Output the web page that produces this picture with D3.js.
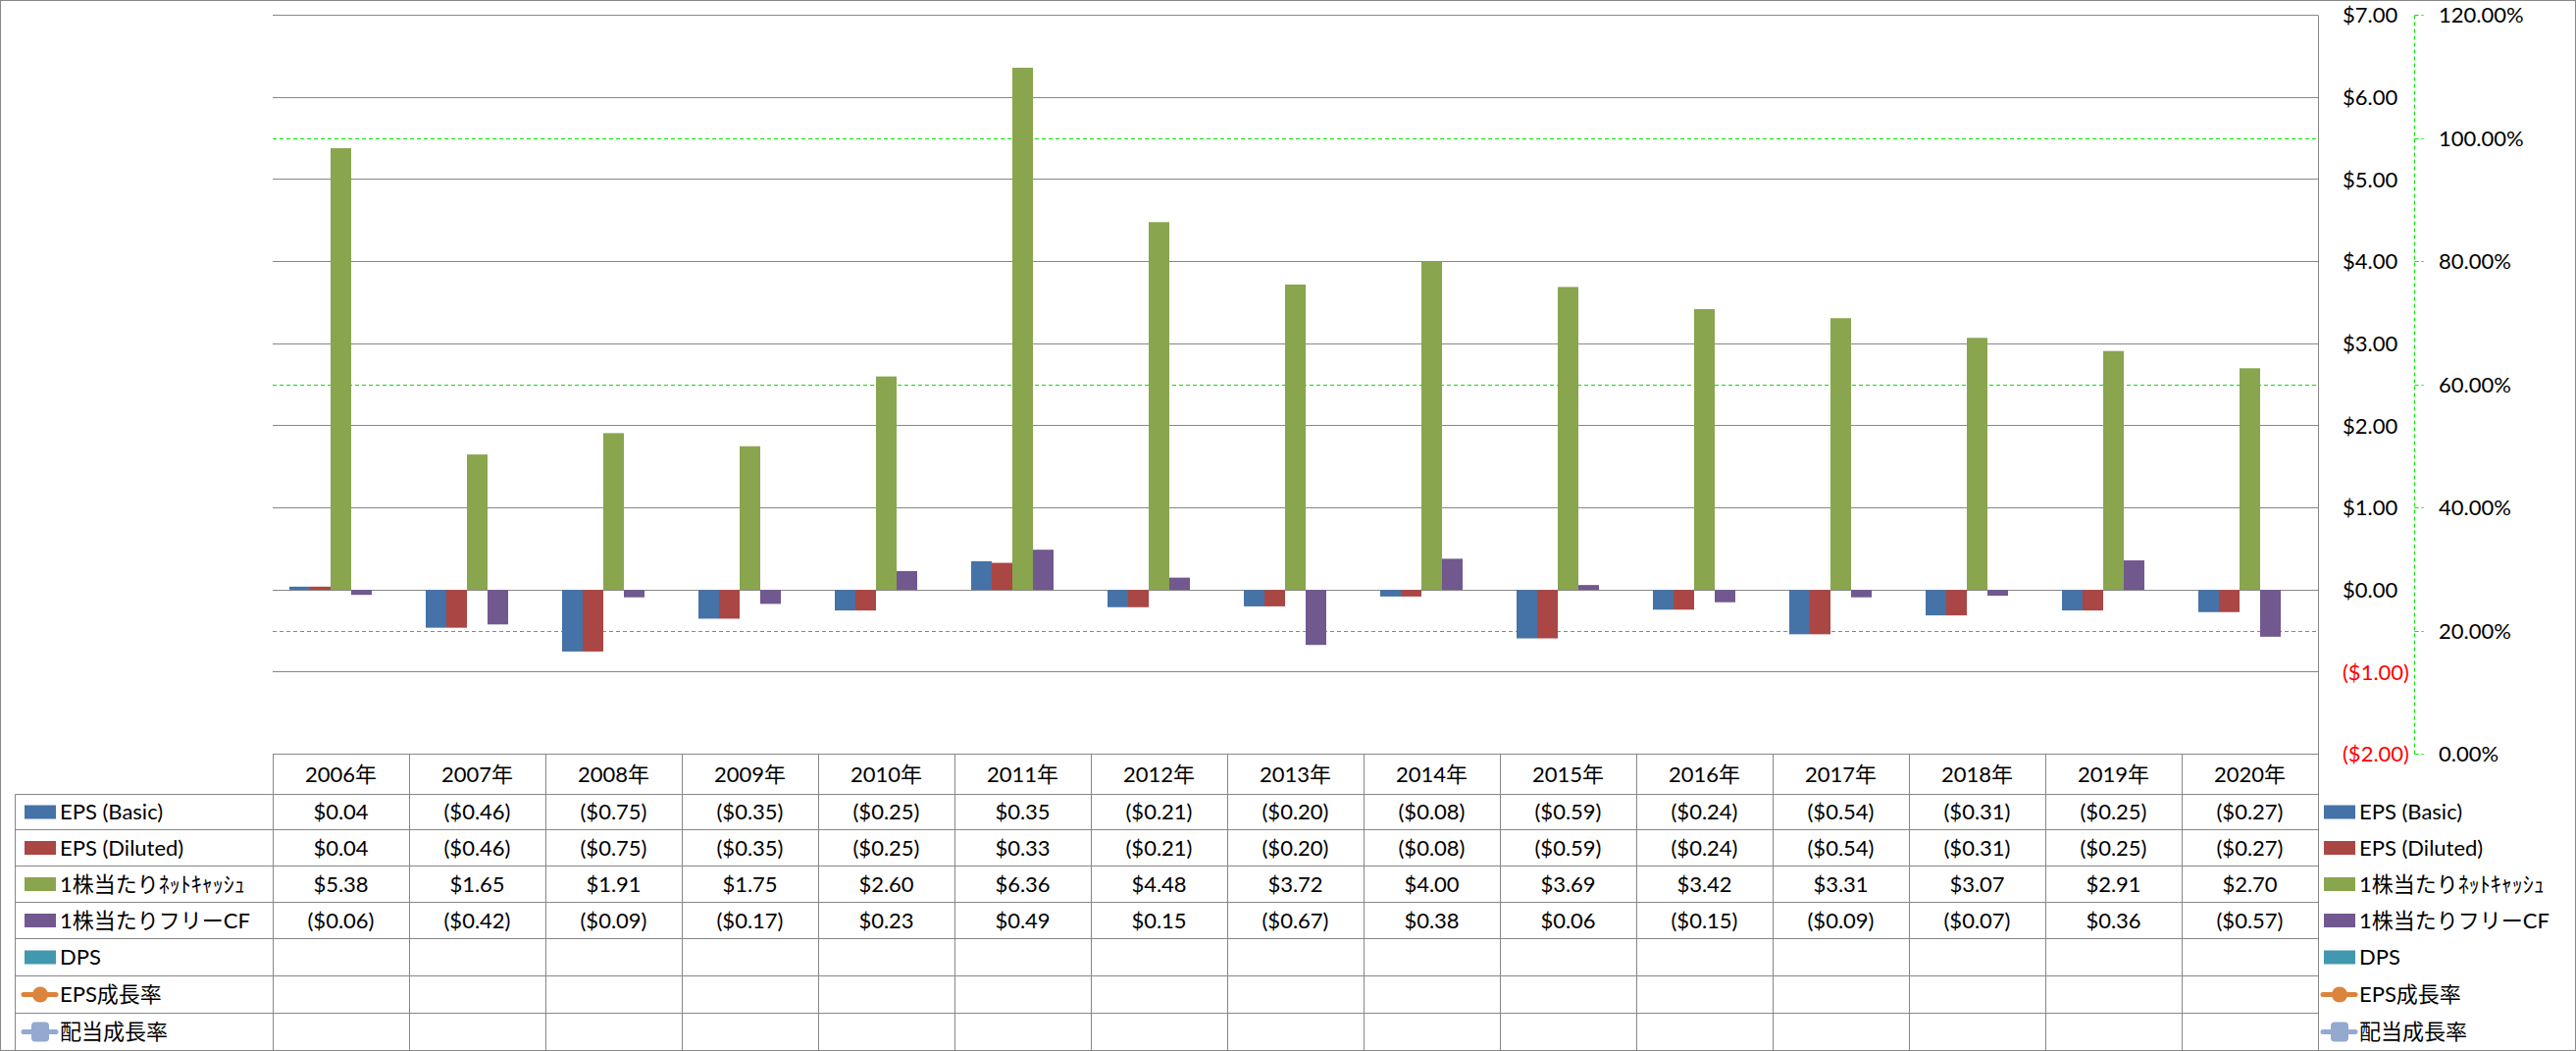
<!DOCTYPE html>
<html><head><meta charset="utf-8">
<script src="https://cdn.jsdelivr.net/npm/d3@7"></script>
<style>
html,body{margin:0;padding:0;background:#fff;}
svg text{font-family:Lato,"Noto Sans CJK JP",sans-serif;}
</style></head>
<body>
<svg id="chart" width="2626" height="1071"></svg>
<script>
// ---- data ----
const years = ["2006年","2007年","2008年","2009年","2010年","2011年","2012年","2013年","2014年","2015年","2016年","2017年","2018年","2019年","2020年"];
const epsBasic   = [0.04,-0.46,-0.75,-0.35,-0.25,0.35,-0.21,-0.20,-0.08,-0.59,-0.24,-0.54,-0.31,-0.25,-0.27];
const epsDiluted = [0.04,-0.46,-0.75,-0.35,-0.25,0.33,-0.21,-0.20,-0.08,-0.59,-0.24,-0.54,-0.31,-0.25,-0.27];
const netCash    = [5.38,1.65,1.91,1.75,2.60,6.36,4.48,3.72,4.00,3.69,3.42,3.31,3.07,2.91,2.70];
const freeCF     = [-0.06,-0.42,-0.09,-0.17,0.23,0.49,0.15,-0.67,0.38,0.06,-0.15,-0.09,-0.07,0.36,-0.57];
const dps        = years.map(() => null);
const epsGrowth  = years.map(() => null);
const divGrowth  = years.map(() => null);
const seriesNames = ["EPS (Basic)","EPS (Diluted)","1株当たりﾈｯﾄｷｬｯｼｭ","1株当たりフリーCF","DPS","EPS成長率","配当成長率"];
const seriesColors = ["#4572A7","#AA4643","#89A54E","#71588F","#4198AF","#DB843D","#93A9CF"];
const seriesKinds = ["bar","bar","bar","bar","bar","line","line"];
const seriesValues = [epsBasic, epsDiluted, netCash, freeCF, dps, epsGrowth, divGrowth];
const dollarTicks = [7,6,5,4,3,2,1,0,-1,-2];
const pctTicks = [1.2,1.0,0.8,0.6,0.4,0.2,0.0];

// ---- layout ----
const svg = d3.select("#chart");
const W = 2626, H = 1071;
const plotL = 278, plotR = 2363, plotT = 15.5, plotB = 768.5;
const tableL = 15.5;
const rowLines = [768.5, 809.5, 845.5, 882.5, 919.5, 956.5, 994.5, 1032.5, 1070.5];
const gridColor = "#878787";
const fmtD = v => v == null ? "" : (v < 0 ? "($" + Math.abs(v).toFixed(2) + ")" : "$" + v.toFixed(2));
const fmtP = v => (v * 100).toFixed(2) + "%";

const x0 = d3.scaleBand().domain(years).range([plotL, plotR]).paddingInner(0).paddingOuter(0);
const barSeries = seriesNames.filter((d, i) => seriesKinds[i] === "bar");
const x1 = d3.scaleBand().domain(barSeries).range([0, x0.bandwidth()]).paddingInner(0).paddingOuter(0.81);
const y = d3.scaleLinear().domain([-2, 7]).range([plotB, plotT]);
const y2 = d3.scaleLinear().domain([0, 1.2]).range([plotB, plotT]);
const snap = v => Math.floor(v + 0.01) + 0.5;

// outer border
svg.append("rect").attr("x", 0.5).attr("y", 0.5).attr("width", W - 1).attr("height", H - 1)
  .attr("fill", "#fff").attr("stroke", gridColor).attr("stroke-width", 1);

// secondary (%) dashed green gridlines (hidden where a primary gridline lies on top)
const primaryYs = dollarTicks.map(d => y(d));
const gSec = svg.append("g");
gSec.selectAll("line")
  .data(pctTicks.filter(t => !primaryYs.some(py => Math.abs(py - y2(t)) < 2))).join("line")
  .attr("x1", plotL).attr("x2", plotR)
  .attr("y1", d => snap(y2(d))).attr("y2", d => snap(y2(d)))
  .attr("stroke", "#00E600").attr("stroke-width", 1).attr("stroke-dasharray", "4,3");

// primary gridlines
const gGrid = svg.append("g");
gGrid.selectAll("line").data(dollarTicks).join("line")
  .attr("x1", plotL).attr("x2", plotR)
  .attr("y1", d => snap(y(d))).attr("y2", d => snap(y(d)))
  .attr("stroke", gridColor).attr("stroke-width", 1);

// plot right border (extends through table)
svg.append("line").attr("x1", plotR + 0.5).attr("x2", plotR + 0.5).attr("y1", plotT).attr("y2", H)
  .attr("stroke", gridColor).attr("stroke-width", 1);

// bars
const gBars = svg.append("g");
years.forEach((yr, i) => {
  const g = gBars.append("g").attr("transform", `translate(${x0(yr)},0)`);
  seriesNames.forEach((name, si) => {
    if (seriesKinds[si] !== "bar") return;
    const v = seriesValues[si][i];
    if (v == null) return;
    g.append("rect")
      .attr("x", x1(name)).attr("width", x1.bandwidth())
      .attr("y", Math.min(y(v), y(0))).attr("height", Math.abs(y(v) - y(0)))
      .attr("fill", seriesColors[si]);
  });
});

// right $ axis labels
const gAx = svg.append("g");
gAx.selectAll("text").data(dollarTicks).join("text")
  .attr("x", 2388).attr("y", d => y(d)).attr("dy", "0.35em")
  .attr("font-size", 22).attr("fill", d => d < 0 ? "#FF0000" : "#000")
  .text(fmtD);

// secondary % axis (dashed green line + ticks)
const axX = 2461.5;
svg.append("line").attr("x1", axX).attr("x2", axX).attr("y1", plotT).attr("y2", plotB)
  .attr("stroke", "#00E600").attr("stroke-width", 1).attr("stroke-dasharray", "4,3");
const gAx2 = svg.append("g");
gAx2.selectAll("line").data(pctTicks).join("line")
  .attr("x1", axX).attr("x2", axX + 9)
  .attr("y1", d => snap(y2(d))).attr("y2", d => snap(y2(d)))
  .attr("stroke", "#00E600").attr("stroke-width", 1).attr("stroke-dasharray", "4,3");
gAx2.selectAll("text").data(pctTicks).join("text")
  .attr("x", 2486).attr("y", d => y2(d)).attr("dy", "0.35em")
  .attr("font-size", 22).attr("fill", "#000").text(fmtP);

// ---- data table ----
const gT = svg.append("g");
years.forEach((yr, i) => {
  gT.append("line").attr("x1", x0(yr) + 0.5).attr("x2", x0(yr) + 0.5)
    .attr("y1", plotB).attr("y2", H).attr("stroke", gridColor);
  gT.append("text").attr("x", x0(yr) + x0.bandwidth() / 2).attr("y", (rowLines[0] + rowLines[1]) / 2)
    .attr("dy", "0.35em").attr("text-anchor", "middle").attr("font-size", 22).attr("fill", "#000").text(yr);
});
rowLines.slice(1).forEach(ry => {
  gT.append("line").attr("x1", tableL).attr("x2", plotR).attr("y1", ry).attr("y2", ry).attr("stroke", gridColor);
});
gT.append("line").attr("x1", tableL).attr("x2", tableL).attr("y1", rowLines[1]).attr("y2", H).attr("stroke", gridColor);

function legendKey(g, si, kx, cy) {
  const c = seriesColors[si];
  if (seriesKinds[si] === "bar") {
    g.append("rect").attr("x", kx).attr("y", cy - 7).attr("width", 32).attr("height", 14).attr("fill", c);
  } else {
    g.append("line").attr("x1", kx - 1).attr("x2", kx + 32).attr("y1", cy).attr("y2", cy)
      .attr("stroke", c).attr("stroke-width", 5).attr("stroke-linecap", "round");
    if (si === 5) {
      g.append("circle").attr("cx", kx + 16).attr("cy", cy).attr("r", 8).attr("fill", c);
    } else {
      g.append("rect").attr("x", kx + 7).attr("y", cy - 10).attr("width", 18).attr("height", 20)
        .attr("rx", 4).attr("fill", c);
    }
  }
}

seriesNames.forEach((name, si) => {
  const cy = (rowLines[si + 1] + rowLines[si + 2]) / 2;
  legendKey(gT, si, 25, cy);
  gT.append("text").attr("x", 61).attr("y", cy).attr("dy", "0.35em")
    .attr("font-size", 22).attr("fill", "#000").text(name);
  years.forEach((yr, i) => {
    const v = seriesValues[si][i];
    if (v == null) return;
    gT.append("text").attr("x", x0(yr) + x0.bandwidth() / 2).attr("y", cy).attr("dy", "0.35em")
      .attr("text-anchor", "middle").attr("font-size", 22).attr("fill", "#000").text(fmtD(v));
  });
  legendKey(gT, si, 2369, cy);
  gT.append("text").attr("x", 2405).attr("y", cy).attr("dy", "0.35em")
    .attr("font-size", 22).attr("fill", "#000").text(name);
});
</script>
</body></html>
